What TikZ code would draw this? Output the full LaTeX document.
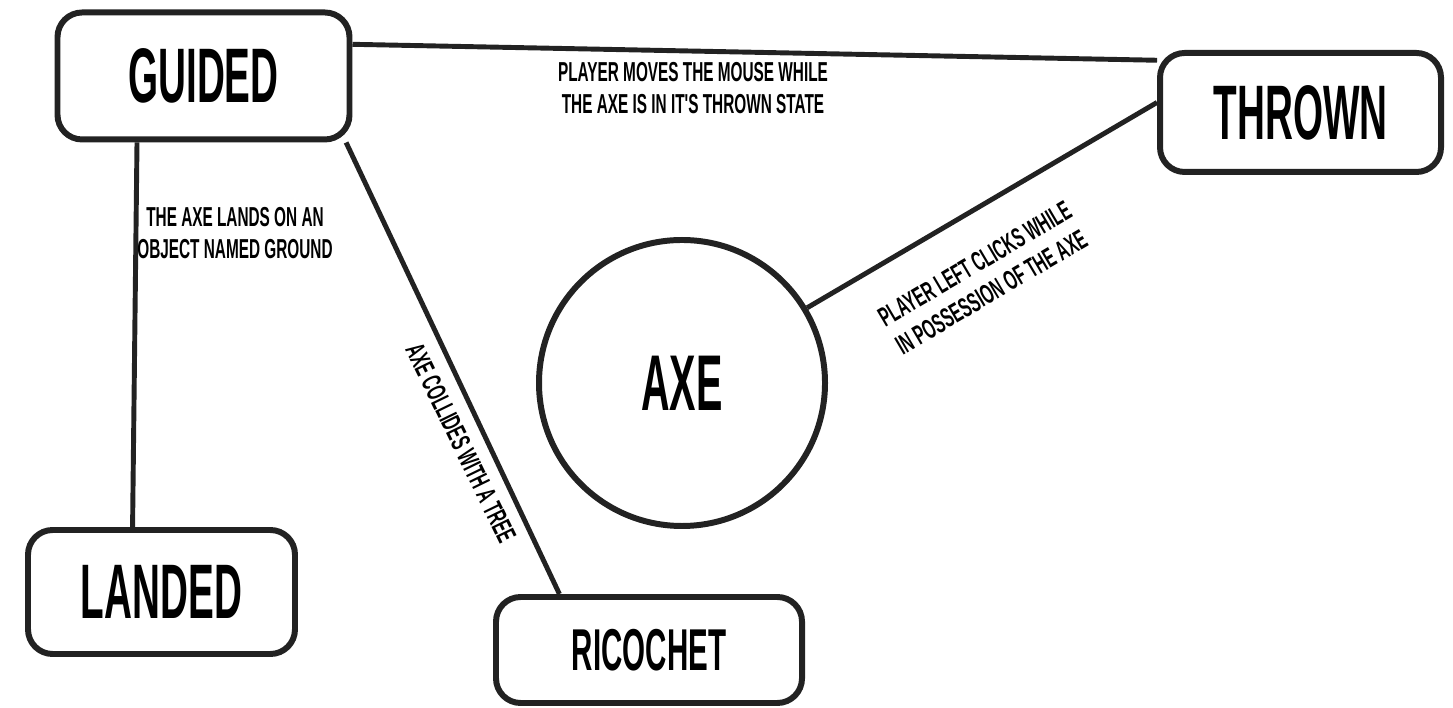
\documentclass[tikz,border=0pt]{standalone}
\usepackage{fontspec}
\usepackage{tikz}
\usetikzlibrary{positioning}
\newfontfamily\condfont{Liberation Sans}[FakeStretch=0.5]
\newfontfamily\lblfont{Liberation Sans}[FakeStretch=0.56]
\definecolor{InkGray}{HTML}{222222}
\tikzset{
  stnode/.style={draw=InkGray,fill=white,rounded corners=7pt,line width=1.7pt,
    font=\condfont\bfseries\fontsize{22}{24}\selectfont,
    align=center,inner sep=2pt},
  axenode/.style={circle,draw=InkGray,line width=1.7pt,minimum size=2.86cm,
    font=\condfont\bfseries\fontsize{22.5}{24}\selectfont,inner sep=0pt},
  edgeL/.style={line width=1.4pt,draw=InkGray},
  lbl/.style={font=\lblfont\bfseries\fontsize{7.8}{9.3}\selectfont,
    align=center,inner sep=1pt},
}
\begin{document}
\begin{tikzpicture}
  \useasboundingbox (0,0) rectangle (14.53,7.08);
  \node[stnode,minimum width=2.92cm,minimum height=1.27cm] (guided) at (2.035,6.32) {GUIDED};
  \node[stnode,minimum width=2.81cm,minimum height=1.19cm] (thrown) at (13.005,5.955) {THROWN};
  \node[stnode,minimum width=2.67cm,minimum height=1.24cm] (landed) at (1.615,1.16) {LANDED};
  \node[stnode,minimum width=3.06cm,minimum height=1.06cm,
    font=\condfont\bfseries\fontsize{16.8}{18}\selectfont] (ricochet) at (6.49,0.58) {RICOCHET};
  \node[axenode] (axe) at (6.82,3.25) {AXE};
  \draw[edgeL] (guided.12.5) -- (thrown.160);
  \draw[edgeL] (thrown.176) -- (axe.31);
  \draw[edgeL] (guided.225) -- (landed.114);
  \draw[edgeL] (guided.-25) -- (ricochet.148);
  \node[lbl] (lmove) at (6.93,6.20) {PLAYER MOVES THE MOUSE WHILE\\THE AXE IS IN IT'S THROWN STATE};
  \node[lbl] (lground) at (2.35,4.75) {THE AXE LANDS ON AN\\OBJECT NAMED GROUND};
  \node[lbl,rotate=-64] (ltree) at (4.61,2.65) {AXE COLLIDES WITH A TREE};
  \node[lbl,rotate=30.6] (lclick) at (9.83,4.30) {PLAYER LEFT CLICKS WHILE\\IN POSSESSION OF THE AXE};
\end{tikzpicture}
\end{document}
